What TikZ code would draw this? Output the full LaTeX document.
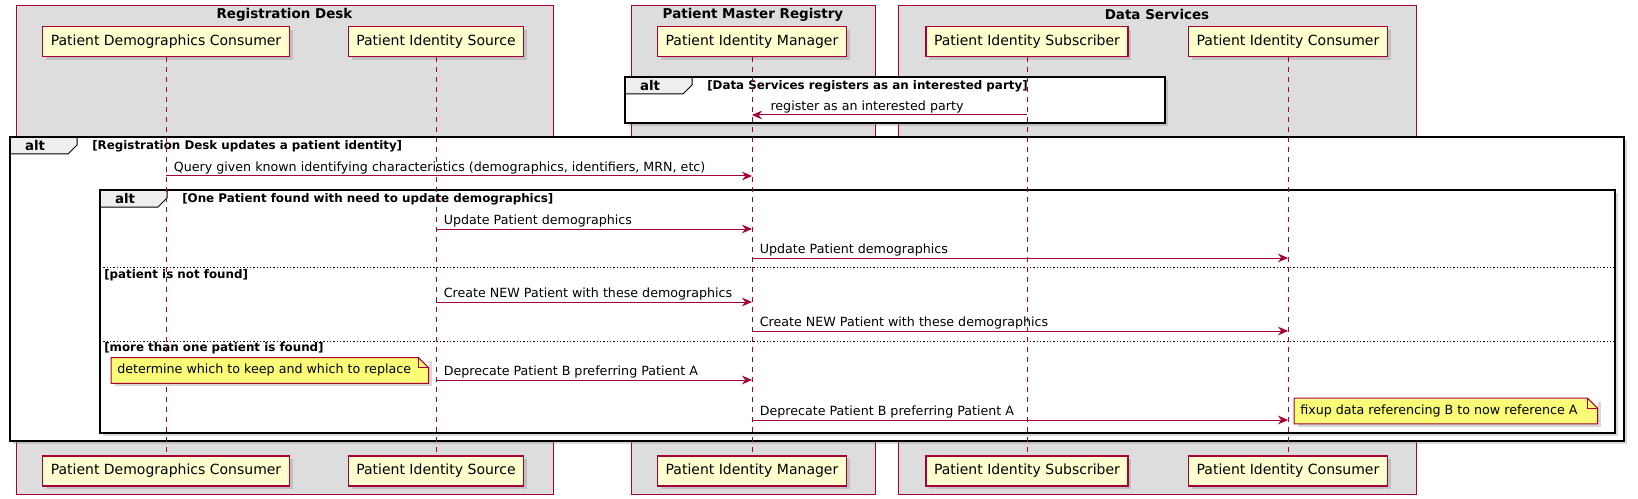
\documentclass[tikz,border=0pt]{standalone}
\usepackage{fontspec}
\setmainfont{DejaVu Sans}
\usetikzlibrary{arrows.meta,shadows}
\definecolor{plum}{HTML}{A80036}
\definecolor{actorfill}{HTML}{FEFECE}
\definecolor{grpfill}{HTML}{DDDDDD}
\definecolor{tabfill}{HTML}{EEEEEE}
\definecolor{notefill}{HTML}{FBFB77}

\begin{document}
\begin{tikzpicture}[
x=0.75pt, y=-0.75pt,
shade/.style={drop shadow={shadow xshift=2.5pt, shadow yshift=-2.5pt, opacity=0.3}},
grp/.style={draw=plum, fill=grpfill, line width=0.75pt},
grptitle/.style={font=\fontsize{10.1}{12}\selectfont\bfseries, inner sep=0},
actor/.style={
		draw=plum, fill=actorfill,
		line width=1.1pt,
		minimum height=22.5pt, inner xsep=6pt,
		font=\fontsize{10.5}{12}\selectfont,
		shade,
		},
life/.style={draw=plum, line width=0.75pt, dash pattern=on 3.75pt off 3.75pt},
frm/.style={draw=black, line width=1.5pt},
tab/.style={draw=black, fill=tabfill, line width=0.75pt},
alttxt/.style={font=\fontsize{10}{11}\selectfont\bfseries, inner sep=0},
guard/.style={font=\fontsize{8.9}{10}\selectfont\bfseries, anchor=west, inner sep=0},
sep/.style={draw=black, line width=0.75pt, dash pattern=on 1pt off 1.5pt},
msg/.style={draw=plum, line width=0.75pt, -{Stealth[length=7.5pt, width=6.5pt, inset=2.5pt]}},
lbl/.style={font=\fontsize{9.5}{11}\selectfont, anchor=base west, inner sep=0, xshift=5.5pt, yshift=3.5pt},
note/.style={fill=notefill, anchor=west, inner sep=0, font=\fontsize{9.5}{11}\selectfont, shade},
notebox/.style={draw=plum, line width=0.75pt},
]

\useasboundingbox (0,0) rectangle (1638,499);

\def \tw {67} % width of the alt tab
\def \th {17}
\def \fold {7.5pt}

% boxes round the participants
\foreach \nm/\xa/\xb/\t in {rd/16/553/Registration Desk, pmr/631/875/Patient Master Registry, ds/898/1416/Data Services}
{
  \draw[grp] (\xa,6) rectangle (\xb,494);
  \node[grptitle] (\nm) at ({(\xa+\xb)/2},14.5) {\t};
}

% alt frames
\foreach \nm/\xa/\ya/\xb/\yb/\g in {
  reg/625/77/1165/123/{[Data Services registers as an interested party]},
  upd/10/137/1624/441/{[Registration Desk updates a patient identity]},
  fnd/100/190/1615/433/{[One Patient found with need to update demographics]}}
{
  \draw[frm, fill=white, shade] (\xa,\ya) rectangle (\xb,\yb);
  \draw[tab] (\xa,\ya) -- ++(\tw,0) -- ++(0,8) -- ++(-9,\th-8) -- (\xa,\ya+\th) -- cycle;
  \draw[frm] (\xa,\ya) rectangle (\xb,\yb);
  \node[alttxt] (\nm-alt) at (\xa+25,\ya+9) {alt};
  \node[guard] (\nm-g) at (\xa+82,\ya+9) {\g};
}

\draw[sep] (100,267) -- (1615,267);
\node[guard] (nf) at (104,275) {[patient is not found]};
\draw[sep] (100,341) -- (1615,341);
\node[guard] (mf) at (104,348) {[more than one patient is found]};

% participants and lifelines
\foreach \nm/\x/\t in {pdc/166/Patient Demographics Consumer, pis/436/Patient Identity Source, pim/752/Patient Identity Manager, psub/1027/Patient Identity Subscriber, pic/1288/Patient Identity Consumer}
{
  \node[actor] (\nm-t) at (\x,41.5) {\t};
  \node[actor] (\nm-b) at (\x,471) {\t};
  \draw[life] (\nm-t) -- (\nm-b);
}

% messages
\coordinate (r-s) at (psub-t |- 0,115);
\coordinate (r-e) at (pim-t |- 0,115);
\draw[msg] (r-s) -- (r-e) node[lbl, pos=1, xshift=8pt] {register as an interested party};

\foreach \nm/\a/\b/\y/\t in {
  q/pdc/pim/176/{Query given known identifying characteristics (demographics, identifiers, MRN, etc)},
  u1/pis/pim/229/{Update Patient demographics},
  u2/pim/pic/258/{Update Patient demographics},
  c1/pis/pim/302/{Create NEW Patient with these demographics},
  c2/pim/pic/331/{Create NEW Patient with these demographics},
  d1/pis/pim/380/{Deprecate Patient B preferring Patient A},
  d2/pim/pic/420/{Deprecate Patient B preferring Patient A}}
{
  \coordinate (\nm-s) at (\a-t |- 0,\y);
  \coordinate (\nm-e) at (\b-t |- 0,\y);
  \draw[msg] (\nm-s) -- (\nm-e) node[lbl, pos=0] {\t};
}

% notes
\foreach \nm/\x/\y/\w/\t in {
  keep/111/370.5/237.75pt/{determine which to keep and which to replace},
  fix/1294/411/227.25pt/{fixup data referencing B to now reference A}}
{
  \node[note, minimum height=18.75pt] (\nm) at (\x,\y) {\makebox[\w][l]{\hspace{4.5pt}\t}};
  \fill[white] ([xshift=-\fold]\nm.north east) -- ([xshift=1pt,yshift=1pt]\nm.north east) -- ([yshift=-\fold]\nm.north east) -- cycle;
  \draw[notebox] (\nm.south west) -- (\nm.north west) -- ([xshift=-\fold]\nm.north east)
    -- ([yshift=-\fold]\nm.north east) -- (\nm.south east) -- cycle;
  \draw[notebox] ([xshift=-\fold]\nm.north east) |- ([yshift=-\fold]\nm.north east);
}

\end{tikzpicture}
\end{document}
